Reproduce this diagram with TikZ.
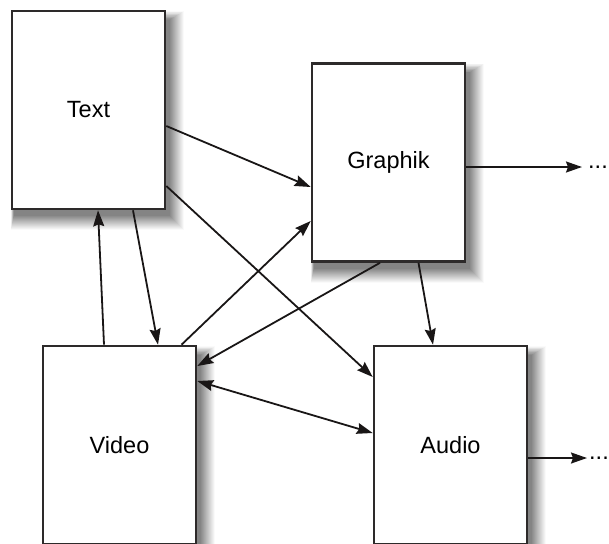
\documentclass[tikz,border=0pt]{standalone}
\usepackage{fontspec}
\setmainfont{Liberation Sans}
\usetikzlibrary{arrows.meta, positioning, backgrounds}

\begin{document}
\begin{tikzpicture}[x=1pt, y=1pt,
    medium/.style={draw=boxline, line width=2.6pt, fill=white,
        minimum width=153pt, minimum height=198pt, inner sep=0pt,
        font=\fontsize{23.5}{28}\selectfont},
    link/.style={draw=arrowline, line width=1.8pt,
        -{Stealth[length=16pt, width=11pt, inset=2pt]}},
    both/.style={link, {Stealth[length=16pt, width=11pt, inset=2pt]}-{Stealth[length=16pt, width=11pt, inset=2pt]}},
    more/.style={font=\fontsize{23.5}{28}\selectfont, inner sep=0pt}]

% --- COLORS ---
\definecolor{boxline}{RGB}{45, 42, 42}     % box border
\definecolor{arrowline}{RGB}{25, 22, 22}   % connectors

\useasboundingbox (0,0) rectangle (609,-543);

% --- MEDIA BOXES ---
\node[medium] (text)    at (88.5,-110)  {Text};
\node[medium] (graphik) at (388.5,-162.5) {Graphik};
\node[medium] (video)   at (119.5,-445) {Video};
\node[medium] (audio)   at (450.5,-445) {Audio};

% --- SOFT SHADOWS ---
\begin{scope}[on background layer]
    \foreach \b in {text, graphik, video, audio} {
        \foreach \i in {0,...,14} {
            \pgfmathsetmacro{\r}{14-\i}
            \pgfmathsetmacro{\shade}{2+\i*3.3}
            \fill[black!\shade] ([shift={(3-0.2*\r,-6-\r)}]\b.south west)
                rectangle ([shift={(4+\r,-10+0.6*\r)}]\b.north east);
        }
    }
\end{scope}

% --- OUTGOING ENDS ---
\coordinate (g-out) at (582,-167);
\coordinate (a-out) at (587,-458);
\node[more, right=6pt of g-out] (more1) {...};
\node[more, right=2pt of a-out] (more2) {...};

% --- CONNECTORS ---
\draw[link] ([yshift=-16pt]text.east) -- ([yshift=-24.5pt]graphik.west);
\draw[link] ([yshift=-76pt]text.east) -- ([yshift=68pt]audio.west);
\draw[link] ([xshift=44.5pt]text.south) -- ([xshift=38.5pt]video.north);
\draw[link] ([xshift=-15.5pt]video.north) -- ([xshift=9.5pt]text.south);
\draw[link] ([xshift=62pt]video.north) -- ([yshift=-58.5pt]graphik.west);
\draw[link] ([xshift=-8.5pt]graphik.south) -- ([yshift=79pt]video.east);
\draw[link] ([xshift=30pt]graphik.south) -- ([xshift=-17.5pt]audio.north);
\draw[both] ([yshift=64pt]video.east) -- ([yshift=12pt]audio.west);
\draw[link] ([yshift=-4.5pt]graphik.east) -- (g-out);
\draw[link] ([yshift=-13pt]audio.east) -- (a-out);

\end{tikzpicture}
\end{document}
